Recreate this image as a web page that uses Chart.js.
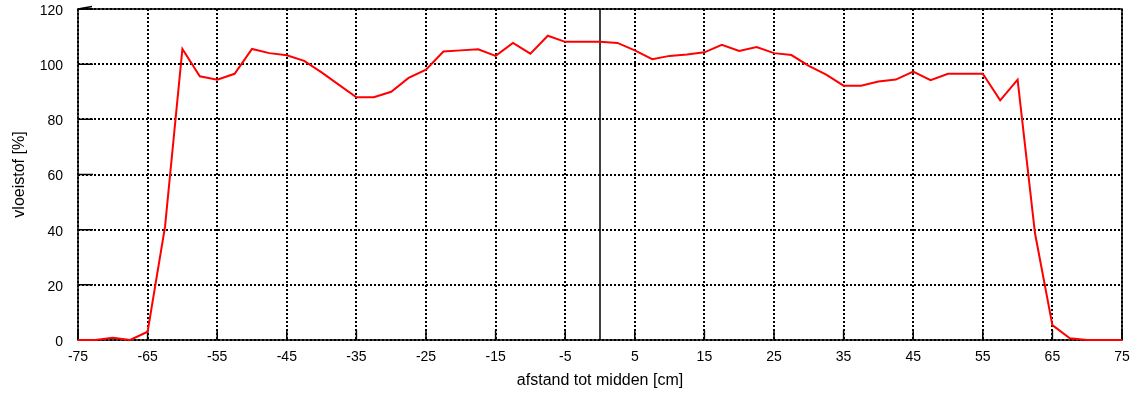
<!DOCTYPE html>
<html>
<head>
<meta charset="utf-8">
<script src="https://cdn.jsdelivr.net/npm/chart.js@4/dist/chart.umd.min.js"></script>
<style>
  body { margin: 0; background: #fff; }
  #wrap { width: 1134px; height: 394px; }
</style>
</head>
<body>
<div id="wrap"><canvas id="chart" width="1134" height="394"></canvas></div>
<script>
// Meetposities (cm tot midden)
const afstand = [
  -75, -72.5, -70, -67.5, -65, -62.5, -60, -57.5, -55, -52.5,
  -50, -47.5, -45, -42.5, -40, -37.5, -35, -32.5, -30, -27.5,
  -25, -22.5, -20, -17.5, -15, -12.5, -10, -7.5, -5, -2.5,
  0, 2.5, 5, 7.5, 10, 12.5, 15, 17.5, 20, 22.5,
  25, 27.5, 30, 32.5, 35, 37.5, 40, 42.5, 45, 47.5,
  50, 52.5, 55, 57.5, 60, 62.5, 65, 67.5, 70, 72.5, 75
];

// Vloeistof [%]
const vloeistof = [
  0, 0, 0.8, 0, 3, 41, 105.5, 95.6, 94.4, 96.5,
  105.5, 104, 103.2, 101.2, 97, 92.5, 88, 88, 90, 95,
  98, 104.6, 105, 105.4, 103, 107.7, 103.8, 110.3, 108.1, 108.1,
  108.1, 107.7, 105, 101.8, 103, 103.5, 104.3, 107, 104.8, 106.2,
  104, 103.3, 99.4, 96.2, 92.2, 92.2, 93.7, 94.4, 97.3, 94.2,
  96.5, 96.5, 96.5, 86.9, 94.4, 38.7, 5.4, 0.6, 0, 0, 0
];

// As-labels
const xTicks = [-75, -65, -55, -45, -35, -25, -15, -5, 5, 15, 25, 35, 45, 55, 65, 75];
const yTicks = [0, 20, 40, 60, 80, 100, 120];

const FONT = "'Liberation Sans', Arial, sans-serif";

// Kader, nul-lijn en korte tickstreepjes binnen het plotvlak (onder de rode lijn)
const frame = {
  id: "frame",
  beforeDatasetsDraw(chart){
    const {ctx, chartArea: a, scales: {x, y}} = chart;
    ctx.save();
    ctx.strokeStyle = "#000";
    ctx.lineWidth = 1.5;
    // verticale lijn bij 0
    const x0 = x.getPixelForValue(0);
    ctx.beginPath();
    ctx.moveTo(x0, a.top);
    ctx.lineTo(x0, a.bottom);
    ctx.stroke();
    // tickstreepjes
    ctx.beginPath();
    x.ticks.forEach((t, i) => {
      const px = x.getPixelForTick(i);
      ctx.moveTo(px, a.bottom);
      ctx.lineTo(px, a.bottom - 10);
    });
    y.ticks.forEach((t, i) => {
      const py = y.getPixelForTick(i);
      ctx.moveTo(a.left, py);
      ctx.lineTo(a.left + 15, py);
    });
    ctx.stroke();
    // kader
    ctx.strokeRect(a.left, a.top, a.right - a.left, a.bottom - a.top);
    // klein schuin streepje linksboven
    ctx.beginPath();
    ctx.moveTo(a.left, a.top);
    ctx.lineTo(a.left + 14, a.top - 2.5);
    ctx.stroke();
    ctx.restore();
  }
};

new Chart(document.getElementById("chart"), {
  type: "line",
  data: {
    datasets: [{
      data: afstand.map((a, i) => ({x: a, y: vloeistof[i]})),
      borderColor: "#ff0000",
      borderWidth: 2,
      pointRadius: 0,
      tension: 0,
      fill: false,
      clip: 3
    }]
  },
  options: {
    responsive: false,
    animation: false,
    layout: { padding: { left: 10, right: 12, top: 9, bottom: 0 } },
    plugins: {
      legend: { display: false },
      tooltip: { enabled: false }
    },
    scales: {
      x: {
        type: "linear",
        min: -75,
        max: 75,
        afterBuildTicks: s => { s.ticks = xTicks.map(v => ({value: v})); },
        afterFit: s => { s.height = 54; s.paddingLeft = 0; s.paddingRight = 0; },
        grid: { color: "#000", lineWidth: 2, drawTicks: false },
        border: { display: false, dash: [2, 2] },
        ticks: { color: "#000", font: { family: FONT, size: 14 }, padding: 9, maxRotation: 0 },
        title: {
          display: true,
          text: "afstand tot midden [cm]",
          color: "#000",
          font: { family: FONT, size: 16 },
          padding: { top: 0, bottom: 4 }
        }
      },
      y: {
        min: 0,
        max: 120,
        afterBuildTicks: s => { s.ticks = yTicks.map(v => ({value: v})); },
        afterFit: s => { s.width = 68; s.paddingTop = 0; s.paddingBottom = 0; },
        grid: { color: "#000", lineWidth: 2, drawTicks: false },
        border: { display: false, dash: [2, 2] },
        ticks: { color: "#000", font: { family: FONT, size: 14 }, padding: 15, labelOffset: 2 },
        title: {
          display: true,
          text: "vloeistof [%]",
          color: "#000",
          font: { family: FONT, size: 16 },
          padding: { top: 0, bottom: 0 }
        }
      }
    }
  },
  plugins: [frame]
});
</script>
</body>
</html>
